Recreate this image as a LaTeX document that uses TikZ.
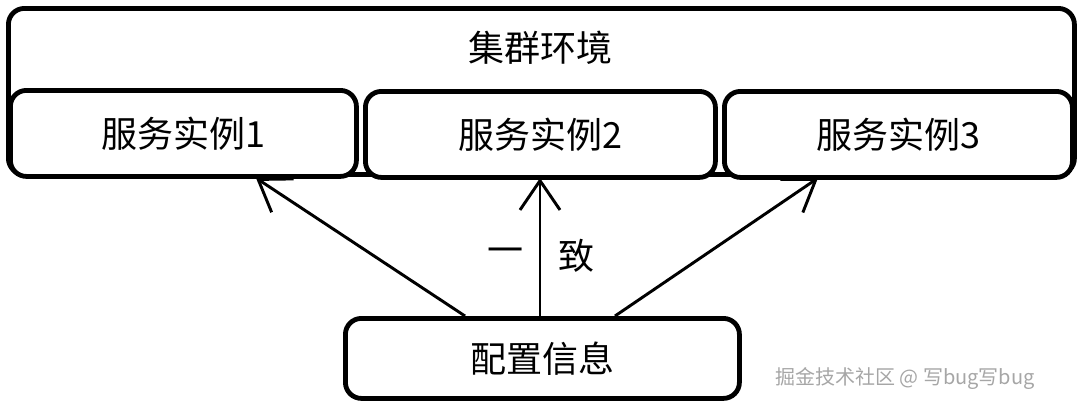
\documentclass[tikz,border=0pt]{standalone}
\usepackage{fontspec}
\setmainfont{Noto Sans CJK SC}
\usetikzlibrary{arrows.meta}
\begin{document}
\begin{tikzpicture}[x=0.75pt,y=-0.75pt,
  box/.style={draw,line width=3.6pt,rounded corners=12pt,fill=white,inner sep=0pt},
  lbl/.style={font=\fontsize{27}{30}\selectfont},
  arr/.style={line width=2.2pt,-{Straight Barb[length=22pt,width=30pt,line width=2.2pt]}}]
\useasboundingbox (0,0) rectangle (1080,408);
\node[box,minimum width=799.5pt,minimum height=124.5pt,anchor=north west] (env) at (6,6) {};
\node[lbl] (envt) at (540,48) {集群环境};
\node[box,minimum width=259.5pt,minimum height=64.5pt,anchor=north west] (s1) at (8,88) {};
\node[lbl] at (s1) {服务实例1};
\node[box,minimum width=262.5pt,minimum height=64.5pt,anchor=north west] (s2) at (363,89) {};
\node[lbl] at (s2) {服务实例2};
\node[box,minimum width=261pt,minimum height=64.5pt,anchor=north west] (s3) at (722,89) {};
\node[lbl] at (s3) {服务实例3};
\node[box,minimum width=295.5pt,minimum height=60pt,anchor=north west] (cfg) at (343,316) {};
\node[lbl] at (cfg) {配置信息};
\coordinate (c1) at (465,316);
\coordinate (c2) at (540,316);
\coordinate (c3) at (615,316);
\coordinate (t1) at (256,178);
\coordinate (t2) at (540,178);
\coordinate (t3) at (818,178);
\draw[arr] (c1) -- (t1);
\draw[arr] (c2) -- (t2);
\draw[arr] (c3) -- (t3);
\node[lbl] (y1) at (505,256) {一};
\node[lbl] (y2) at (576,256) {致};
\node[font=\fontsize{15}{17}\selectfont,text=gray!70] (wm) at (905,378) {掘金技术社区 @ 写bug写bug};
\end{tikzpicture}
\end{document}
